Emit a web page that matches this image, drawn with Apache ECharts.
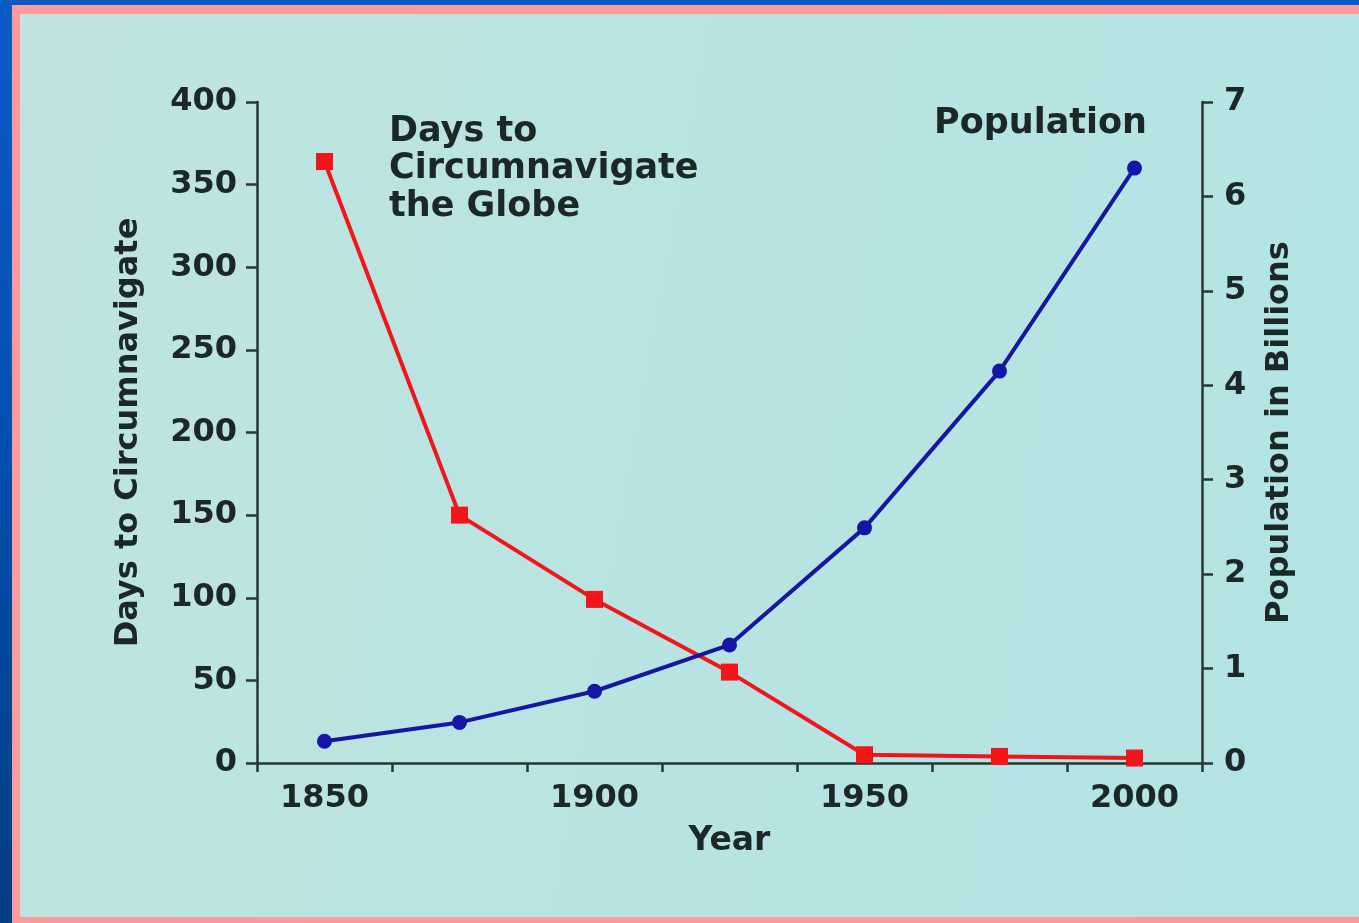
<!DOCTYPE html>
<html>
<head>
<meta charset="utf-8">
<script src="https://cdn.jsdelivr.net/npm/echarts@6/dist/echarts.min.js"></script>
<style>
html,body{margin:0;padding:0;width:1359px;height:923px;overflow:hidden;
  background:linear-gradient(180deg,#0a5cc4 0%,#0050b0 45%,#003d80 100%);}
#frame{position:absolute;left:12px;top:5px;width:1380px;height:918px;box-sizing:border-box;
  border:8px solid #ff9b9d;border-top-width:9px;border-bottom-width:6px;border-right-width:0;
  background:linear-gradient(100deg,#c0e4e0 0%,#b8e4e2 45%,#b2e4e5 100%);}
#chart{position:absolute;left:0;top:0;width:1359px;height:923px;}
</style>
</head>
<body>
<div id="frame"></div>
<div id="chart"></div>
<script>
// ---- data ----
const years = ['1850', '1875', '1900', '1925', '1950', '1975', '2000'];
const daysToCircumnavigate = [364, 150, 99, 55, 5, 4, 3];
const populationBillions = [0.23, 0.43, 0.76, 1.25, 2.49, 4.15, 6.3];
const daysTicks = { min: 0, max: 400, interval: 50 };
const popTicks = { min: 0, max: 7, interval: 1 };

const FONT = '"DejaVu Sans", sans-serif';
const INK = '#1c2727';
const AXIS = '#2a3636';

const chart = echarts.init(document.getElementById('chart'), null, { renderer: 'canvas' });

const axisLineStyle = { show: true, lineStyle: { color: AXIS, width: 2.5 } };
const axisTickStyle = { show: true, length: 11, lineStyle: { color: AXIS, width: 2.5 } };

chart.setOption({
  backgroundColor: 'transparent',
  animation: false,
  grid: { left: 257, right: 157, top: 102, bottom: 160, containLabel: false },
  xAxis: {
    type: 'category',
    data: years,
    boundaryGap: true,
    name: 'Year',
    nameLocation: 'middle',
    nameGap: 62,
    nameTextStyle: { fontFamily: FONT, fontWeight: 'bold', fontSize: 33, color: INK },
    axisLine: axisLineStyle,
    axisTick: { show: true, interval: 0, length: 9, lineStyle: { color: AXIS, width: 2.5 } },
    axisLabel: {
      interval: function (idx) { return idx % 2 === 0; },
      margin: 20,
      fontFamily: FONT, fontWeight: 'bold', fontSize: 32, color: INK
    },
    splitLine: { show: false }
  },
  yAxis: [
    {
      type: 'value',
      position: 'left',
      min: daysTicks.min, max: daysTicks.max, interval: daysTicks.interval,
      name: 'Days to Circumnavigate',
      nameLocation: 'middle',
      nameRotate: 90,
      nameGap: 112,
      nameTextStyle: { fontFamily: FONT, fontWeight: 'bold', fontSize: 32, color: INK },
      axisLine: axisLineStyle,
      axisTick: axisTickStyle,
      axisLabel: { margin: 20, fontFamily: FONT, fontWeight: 'bold', fontSize: 32, color: INK },
      splitLine: { show: false }
    },
    {
      type: 'value',
      position: 'right',
      min: popTicks.min, max: popTicks.max, interval: popTicks.interval,
      name: 'Population in Billions',
      nameLocation: 'middle',
      nameRotate: 90,
      nameGap: 62,
      nameTextStyle: { fontFamily: FONT, fontWeight: 'bold', fontSize: 32, color: INK },
      axisLine: axisLineStyle,
      axisTick: axisTickStyle,
      axisLabel: { margin: 22, fontFamily: FONT, fontWeight: 'bold', fontSize: 32, color: INK },
      splitLine: { show: false }
    }
  ],
  graphic: [
    {
      type: 'text', left: 389, top: 113, z: 10,
      style: {
        text: 'Days to\nCircumnavigate\nthe Globe',
        font: 'bold 35px "DejaVu Sans", sans-serif',
        lineHeight: 37.5,
        fill: INK
      }
    },
    {
      type: 'text', left: 934, top: 106, z: 10,
      style: {
        text: 'Population',
        font: 'bold 35px "DejaVu Sans", sans-serif',
        fill: INK
      }
    }
  ],
  series: [
    {
      name: 'Days to Circumnavigate the Globe',
      type: 'line',
      yAxisIndex: 0,
      data: daysToCircumnavigate,
      symbol: 'rect',
      symbolSize: 17,
      showAllSymbol: true,
      lineStyle: { color: '#f2161a', width: 4 },
      itemStyle: { color: '#f2161a' },
      z: 3
    },
    {
      name: 'Population',
      type: 'line',
      yAxisIndex: 1,
      data: populationBillions,
      symbol: 'circle',
      symbolSize: 15,
      showAllSymbol: true,
      lineStyle: { color: '#1616a6', width: 4 },
      itemStyle: { color: '#1616a6' },
      z: 4
    }
  ]
});
</script>
</body>
</html>
